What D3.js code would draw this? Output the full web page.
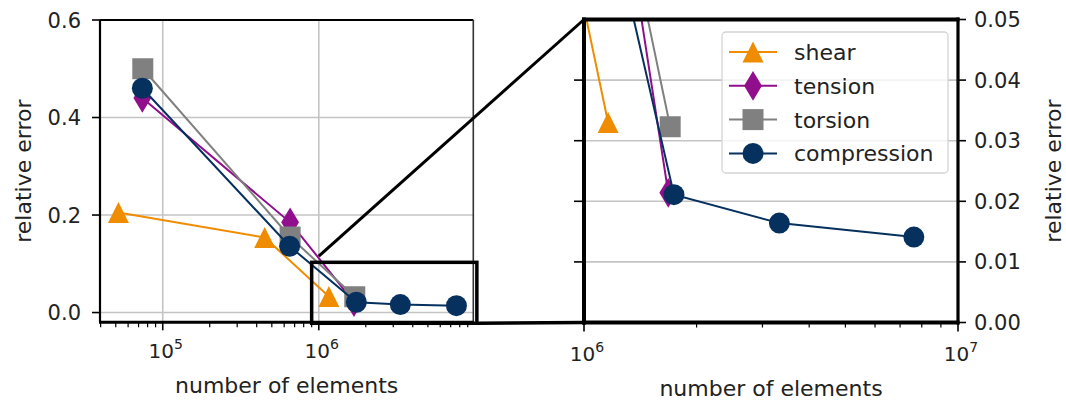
<!DOCTYPE html>
<html>
<head>
<meta charset="utf-8">
<script src="https://cdn.jsdelivr.net/npm/d3@7"></script>
<style>
  html, body { margin: 0; padding: 0; background: #fff; }
  svg { display: block; font-family: "DejaVu Sans", sans-serif; }
</style>
</head>
<body>
<svg id="chart" width="1066" height="403"></svg>
<script>
// ---- data ----
const seriesNames = ["shear", "tension", "torsion", "compression"];
const shearX = [5.2e4, 4.5e5, 1.16e6];
const shearY = [0.205, 0.154, 0.033];
const tensionX = [7.4e4, 6.55e5, 1.68e6];
const tensionY = [0.44, 0.185, 0.0214];
const torsionX = [7.45e4, 6.55e5, 1.70e6];
const torsionY = [0.50, 0.155, 0.0323];
const compressionX = [7.4e4, 6.5e5, 1.74e6, 3.33e6, 7.62e6];
const compressionY = [0.46, 0.136, 0.0211, 0.0164, 0.0141];

const leftYTicks = [0.0, 0.2, 0.4, 0.6];
const leftYTickLabels = ["0.0", "0.2", "0.4", "0.6"];
const leftXTicks = [1e5, 1e6];
const leftXTickExp = ["5", "6"];
const rightYTicks = [0.00, 0.01, 0.02, 0.03, 0.04, 0.05];
const rightYTickLabels = ["0.00", "0.01", "0.02", "0.03", "0.04", "0.05"];
const rightXTicks = [1e6, 1e7];
const rightXTickExp = ["6", "7"];
const xLabel = "number of elements";
const yLabel = "relative error";

// zoom indicator (data coords of left axes) and connector ends
const zoomBoxX = [9.0e5, 1.03e7];
const zoomBoxY = [-0.022, 0.103];
const connectorStart = [1.0e6, 0.1156];   // left axes coords
const connectorEnd = [1.0e6, 0.05];       // right axes coords

// ---- styling ----
const colors = { shear: "#F08C00", tension: "#910F8C", torsion: "#808080", compression: "#06305E" };
const markers = { shear: "triangle", tension: "thindiamond", torsion: "square", compression: "circle" };
const MS = 21;
const FONT = 22;
const TICKFONT = 21;
const textColor = "#222";
const gridColor = "#c4c4c4";

const data = {
  shear: shearX.map((x, i) => ({ x, y: shearY[i] })),
  tension: tensionX.map((x, i) => ({ x, y: tensionY[i] })),
  torsion: torsionX.map((x, i) => ({ x, y: torsionY[i] })),
  compression: compressionX.map((x, i) => ({ x, y: compressionY[i] }))
};

const svg = d3.select("#chart");

// Layouts
const L = { left: 100, right: 473.3, top: 20, bottom: 322.3 };
const R = { left: 584, right: 958, top: 19.5, bottom: 322.5 };

const xL = d3.scaleLog().domain([Math.pow(10, 4.598), Math.pow(10, 6.990)]).range([L.left, L.right]);
const yL = d3.scaleLinear().domain([-0.02, 0.6]).range([L.bottom, L.top]);
const xR = d3.scaleLog().domain([1e6, 1e7]).range([R.left, R.right]);
const yR = d3.scaleLinear().domain([0, 0.05]).range([R.bottom, R.top]);

function markerPath(type, cx, cy) {
  const h = MS / 2;
  if (type === "triangle") {
    return `M${cx},${cy - h}L${cx - h},${cy + h}L${cx + h},${cy + h}Z`;
  } else if (type === "square") {
    return `M${cx - h},${cy - h}H${cx + h}V${cy + h}H${cx - h}Z`;
  } else if (type === "thindiamond") {
    const w = 0.6 * MS * Math.SQRT2 / 2, hh = MS * Math.SQRT2 / 2;
    return `M${cx},${cy - hh}L${cx + w},${cy}L${cx},${cy + hh}L${cx - w},${cy}Z`;
  }
  return d3.path ? (() => { const p = d3.path(); p.arc(cx, cy, h, 0, 2 * Math.PI); p.closePath(); return p.toString(); })() : "";
}

const defs = svg.append("defs");
defs.append("clipPath").attr("id", "clipL").append("rect")
  .attr("x", L.left).attr("y", L.top).attr("width", L.right - L.left).attr("height", L.bottom - L.top);
defs.append("clipPath").attr("id", "clipR").append("rect")
  .attr("x", R.left).attr("y", R.top).attr("width", R.right - R.left).attr("height", R.bottom - R.top);

function minorTicks(scale) {
  const [d0, d1] = scale.domain();
  const out = [];
  for (let e = Math.floor(Math.log10(d0)); e <= Math.ceil(Math.log10(d1)); e++) {
    for (let m = 2; m <= 9; m++) {
      const v = m * Math.pow(10, e);
      if (v >= d0 * 0.999 && v <= d1 * 1.001) out.push(v);
    }
  }
  return out;
}

function drawSeries(g, xs, ys, clipId) {
  const cg = g.append("g").attr("clip-path", `url(#${clipId})`);
  seriesNames.forEach(name => {
    const pts = data[name];
    const line = d3.line().x(d => xs(d.x)).y(d => ys(d.y));
    cg.append("path").attr("d", line(pts)).attr("fill", "none")
      .attr("stroke", colors[name]).attr("stroke-width", 2);
    cg.selectAll(null).data(pts).enter().append("path")
      .attr("d", d => markerPath(markers[name], xs(d.x), ys(d.y)))
      .attr("fill", colors[name]);
  });
}

function supLabel(g, x, y, exp, anchor) {
  const t = g.append("text").attr("x", x).attr("y", y).attr("text-anchor", anchor || "middle")
    .attr("fill", textColor).attr("font-size", TICKFONT - 1);
  t.append("tspan").text("10");
  t.append("tspan").attr("dy", -9).attr("font-size", 14).text(exp);
}

// ================= LEFT AXES =================
const gL = svg.append("g");
// grid
gL.selectAll(null).data(leftXTicks).enter().append("line")
  .attr("x1", d => xL(d)).attr("x2", d => xL(d)).attr("y1", L.top).attr("y2", L.bottom)
  .attr("stroke", gridColor).attr("stroke-width", 1.6);
gL.selectAll(null).data(leftYTicks).enter().append("line")
  .attr("x1", L.left).attr("x2", L.right).attr("y1", d => yL(d)).attr("y2", d => yL(d))
  .attr("stroke", gridColor).attr("stroke-width", 1.6);

drawSeries(gL, xL, yL, "clipL");

// spines
gL.append("line").attr("x1", L.left).attr("x2", L.left).attr("y1", L.top).attr("y2", L.bottom).attr("stroke", "#000").attr("stroke-width", 2.2);
gL.append("line").attr("x1", L.left).attr("x2", L.right).attr("y1", L.top).attr("y2", L.top).attr("stroke", "#000").attr("stroke-width", 2.2);
gL.append("line").attr("x1", L.right).attr("x2", L.right).attr("y1", L.top).attr("y2", L.bottom).attr("stroke", "#333").attr("stroke-width", 1.6);
gL.append("line").attr("x1", L.left - 1).attr("x2", L.right).attr("y1", L.bottom).attr("y2", L.bottom).attr("stroke", "#000").attr("stroke-width", 3);

// y ticks
gL.selectAll(null).data(leftYTicks).enter().append("line")
  .attr("x1", L.left - 8).attr("x2", L.left).attr("y1", d => yL(d)).attr("y2", d => yL(d))
  .attr("stroke", "#000").attr("stroke-width", 1.6);
gL.selectAll(null).data(leftYTicks).enter().append("text")
  .attr("x", L.left - 19).attr("y", d => yL(d)).attr("dy", "0.36em")
  .attr("text-anchor", "end").attr("font-size", TICKFONT).attr("fill", textColor)
  .text((d, i) => leftYTickLabels[i]);
// x ticks
gL.selectAll(null).data(leftXTicks).enter().append("line")
  .attr("x1", d => xL(d)).attr("x2", d => xL(d)).attr("y1", L.bottom).attr("y2", L.bottom + 8)
  .attr("stroke", "#000").attr("stroke-width", 1.6);
gL.selectAll(null).data(minorTicks(xL)).enter().append("line")
  .attr("x1", d => xL(d)).attr("x2", d => xL(d)).attr("y1", L.bottom).attr("y2", L.bottom + 5)
  .attr("stroke", "#000").attr("stroke-width", 1.2);
leftXTicks.forEach((t, i) => supLabel(gL, xL(t) + 3, 358, leftXTickExp[i]));

gL.append("text").attr("x", (L.left + L.right) / 2).attr("y", 393).attr("text-anchor", "middle")
  .attr("font-size", FONT).attr("fill", textColor).text(xLabel);
gL.append("text").attr("transform", `translate(31,${(L.top + L.bottom) / 2}) rotate(-90)`)
  .attr("text-anchor", "middle").attr("font-size", FONT).attr("fill", textColor).text(yLabel);

// ================= RIGHT AXES =================
const gR = svg.append("g");
gR.selectAll(null).data(rightYTicks.slice(1, -1)).enter().append("line")
  .attr("x1", R.left).attr("x2", R.right).attr("y1", d => yR(d)).attr("y2", d => yR(d))
  .attr("stroke", gridColor).attr("stroke-width", 1.6);

drawSeries(gR, xR, yR, "clipR");

// legend
const lg = gR.append("g");
lg.append("rect").attr("x", 722).attr("y", 32).attr("width", 226).attr("height", 141)
  .attr("rx", 4).attr("fill", "#fff").attr("fill-opacity", 0.8)
  .attr("stroke", "#d4d4d4").attr("stroke-width", 1.3);
seriesNames.forEach((name, i) => {
  const cy = 52 + i * 33.8;
  lg.append("line").attr("x1", 729).attr("x2", 777).attr("y1", cy).attr("y2", cy)
    .attr("stroke", colors[name]).attr("stroke-width", 2);
  lg.append("path").attr("d", markerPath(markers[name], 753, cy)).attr("fill", colors[name]);
  lg.append("text").attr("x", 794).attr("y", cy).attr("dy", "0.36em")
    .attr("font-size", FONT).attr("fill", textColor).text(name);
});

// frame (thick)
gR.append("line").attr("x1", R.left).attr("x2", R.left).attr("y1", R.top - 2).attr("y2", R.bottom + 2).attr("stroke", "#000").attr("stroke-width", 4);
gR.append("line").attr("x1", R.left - 2).attr("x2", R.right + 1.5).attr("y1", R.top).attr("y2", R.top).attr("stroke", "#000").attr("stroke-width", 4);
gR.append("line").attr("x1", R.right).attr("x2", R.right).attr("y1", R.top - 2).attr("y2", R.bottom + 2).attr("stroke", "#000").attr("stroke-width", 3.2);
gR.append("line").attr("x1", R.left - 2).attr("x2", R.right + 1.5).attr("y1", R.bottom).attr("y2", R.bottom).attr("stroke", "#000").attr("stroke-width", 4);

// left-side ticks (unlabeled)
gR.selectAll(null).data(rightYTicks.slice(1, -1)).enter().append("line")
  .attr("x1", R.left - 10).attr("x2", R.left).attr("y1", d => yR(d)).attr("y2", d => yR(d))
  .attr("stroke", "#000").attr("stroke-width", 1.6);
// right ticks + labels
gR.selectAll(null).data(rightYTicks).enter().append("line")
  .attr("x1", R.right).attr("x2", R.right + 8).attr("y1", d => yR(d)).attr("y2", d => yR(d))
  .attr("stroke", "#000").attr("stroke-width", 1.6);
gR.selectAll(null).data(rightYTicks).enter().append("text")
  .attr("x", R.right + 16).attr("y", d => yR(d)).attr("dy", "0.36em")
  .attr("text-anchor", "start").attr("font-size", TICKFONT).attr("fill", textColor)
  .text((d, i) => rightYTickLabels[i]);
// x ticks
gR.selectAll(null).data(rightXTicks).enter().append("line")
  .attr("x1", d => xR(d)).attr("x2", d => xR(d)).attr("y1", R.bottom).attr("y2", R.bottom + 9)
  .attr("stroke", "#000").attr("stroke-width", 1.6);
gR.selectAll(null).data(minorTicks(xR).filter(v => v > 1e6 && v < 1e7)).enter().append("line")
  .attr("x1", d => xR(d)).attr("x2", d => xR(d)).attr("y1", R.bottom).attr("y2", R.bottom + 5)
  .attr("stroke", "#000").attr("stroke-width", 1.2);
rightXTicks.forEach((t, i) => supLabel(gR, xR(t) + 3, 361, rightXTickExp[i]));

gR.append("text").attr("x", (R.left + R.right) / 2).attr("y", 396).attr("text-anchor", "middle")
  .attr("font-size", FONT).attr("fill", textColor).text(xLabel);
gR.append("text").attr("transform", `translate(1061,${(R.top + R.bottom) / 2}) rotate(-90)`)
  .attr("text-anchor", "middle").attr("font-size", FONT).attr("fill", textColor).text(yLabel);

// ================= zoom indicator =================
const gz = svg.append("g");
gz.append("rect")
  .attr("x", xL(zoomBoxX[0])).attr("y", yL(zoomBoxY[1]))
  .attr("width", xL(zoomBoxX[1]) - xL(zoomBoxX[0]))
  .attr("height", yL(zoomBoxY[0]) - yL(zoomBoxY[1]))
  .attr("fill", "none").attr("stroke", "#000").attr("stroke-width", 3.5);
gz.append("line")
  .attr("x1", xL(connectorStart[0])).attr("y1", yL(connectorStart[1]))
  .attr("x2", xR(connectorEnd[0])).attr("y2", yR(connectorEnd[1]))
  .attr("stroke", "#000").attr("stroke-width", 3);
gz.append("line")
  .attr("x1", xL(zoomBoxX[1])).attr("y1", yL(zoomBoxY[0]))
  .attr("x2", xR(1e6)).attr("y2", yR(0))
  .attr("stroke", "#000").attr("stroke-width", 3.5);
</script>
</body>
</html>
